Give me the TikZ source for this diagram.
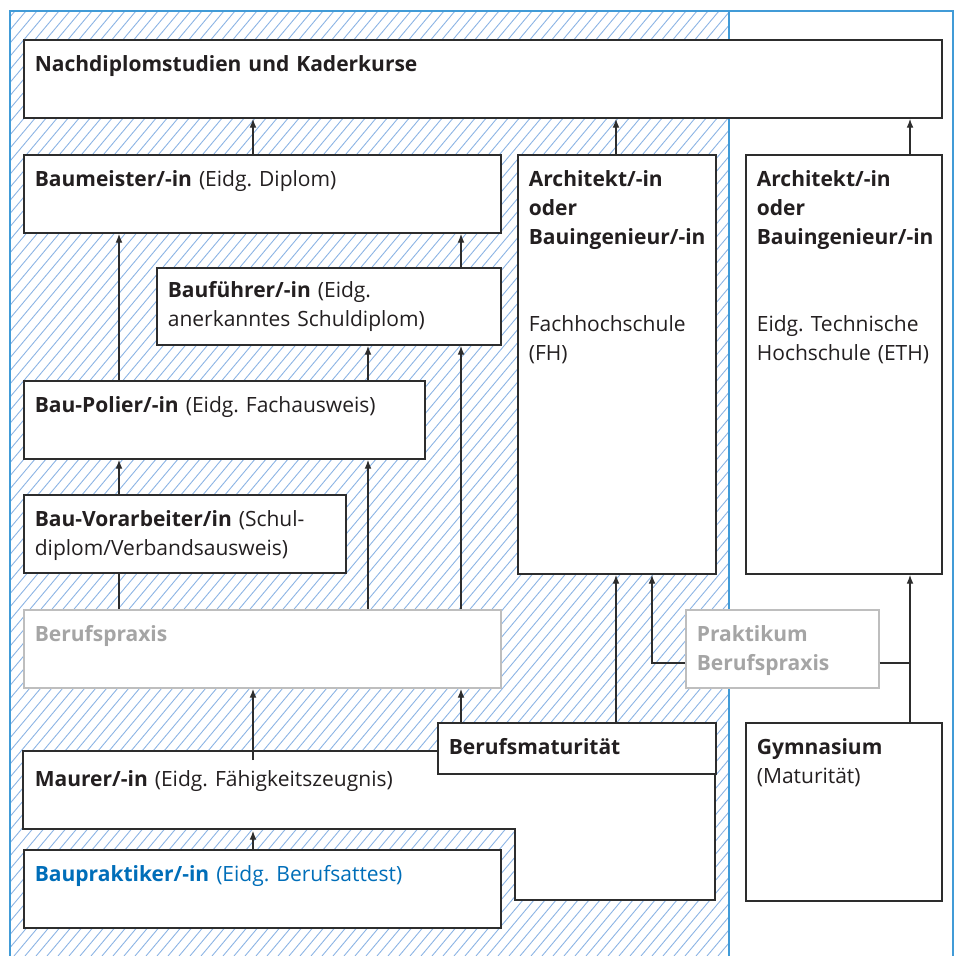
\documentclass[tikz,border=0pt]{standalone}
\usepackage{fontspec}
\setmainfont{Open Sans}
\usetikzlibrary{arrows.meta}
\frenchspacing
\definecolor{frameblue}{RGB}{65,155,215}
\definecolor{hatchblue}{RGB}{140,180,228}
\definecolor{boxline}{RGB}{45,45,45}
\definecolor{txtblack}{RGB}{35,31,32}
\definecolor{graytext}{RGB}{165,165,165}
\definecolor{grayline}{RGB}{190,190,190}
\definecolor{bluetext}{RGB}{0,110,185}
\tikzset{
  box/.style={draw=boxline, line width=0.85pt, fill=white, anchor=north west, inner xsep=5.5pt, inner ysep=0pt, text height=16pt, align=left, text=txtblack, font=\fontsize{10.5}{14.5}\selectfont},
  graybox/.style={box, draw=grayline, text=graytext},
  arr/.style={-{Latex[length=4.5pt,width=3.4pt]}, line width=0.65pt, draw=boxline},
  link/.style={line width=0.65pt, draw=boxline},
  hatch/.style={line width=0.45pt, draw=hatchblue},
}
\begin{document}
\begin{tikzpicture}[x=0.5pt, y=-0.5pt]
\useasboundingbox (0,0) rectangle (962,956);
\begin{scope}
\clip (10,11) rectangle (729,956);
\foreach \hx in {-800,-789,...,730}
  \draw[hatch] (\hx,956) -- ++(793,-945);
\end{scope}
\draw[frameblue, line width=1pt] (10,956) |- (953,11) -- (953,956);
\draw[frameblue, line width=0.75pt] (729,11) -- (729,956);

\coordinate (cA) at (119,0);
\coordinate (cB) at (253,0);
\coordinate (cC) at (368,0);
\coordinate (cD) at (461,0);
\coordinate (cE) at (616,0);
\coordinate (cF) at (652,0);
\coordinate (cG) at (910,0);
\coordinate (rp) at (0,663);

\node[box, text width=448pt, text depth=23pt] (nach) at (23,39) {\textbf{Nachdiplomstudien und Kaderkurse}};
\node[box, text width=227.5pt, text depth=23pt] (meister) at (23,154) {\textbf{Baumeister/-in} (Eidg. Diplom)};
\node[box, text width=88pt, text depth=193.5pt] (archfh) at (517,154) {\textbf{Architekt/-in}\\\textbf{oder}\\\mbox{\textbf{Bauingenieur/-in}}\\[29pt]Fachhochschule\\(FH)};
\node[box, text width=87pt, text depth=193.5pt] (archeth) at (745,154) {\textbf{Architekt/-in}\\\textbf{oder}\\\mbox{\textbf{Bauingenieur/-in}}\\[29pt]Eidg. Technische\\Hochschule (ETH)};
\node[box, text width=161pt, text depth=23.5pt, text height=15pt] (fuehrer) at (156,267) {\textbf{Bauführer/-in} (Eidg.\\anerkanntes Schuldiplom)};
\node[box, text width=189.5pt, text depth=23pt] (polier) at (23,380) {\textbf{Bau-Polier/-in} (Eidg. Fachausweis)};
\node[box, text width=150pt, text depth=23pt] (vorarb) at (23,494) {\textbf{Bau-Vorarbeiter/in} (Schul-\\diplom/Verbandsausweis)};
\node[graybox, text width=227.5pt, text depth=23pt] (praxis) at (23,609) {\textbf{Berufspraxis}};
\node[graybox, text width=85.5pt, text depth=23pt] (praktikum) at (685,609) {\textbf{Praktikum}\\\textbf{Berufspraxis}};
\draw[draw=boxline, line width=0.85pt, fill=white] (23,751) -- (715,751) -- (715,900) -- (515,900) -- (515,829) -- (23,829) -- cycle;
\node[box, draw=none, fill=none, text width=235pt, text height=17.5pt, text depth=21.5pt] (maurer) at (23,751) {\textbf{Maurer/-in} (Eidg. Fähigkeitszeugnis)};
\node[box, text width=128pt, text depth=9.5pt] (bms) at (437,722) {\textbf{Berufsmaturität}};
\node[box, text width=87pt, text depth=73pt] (gym) at (745,722) {\textbf{Gymnasium}\\(Maturität)};
\node[box, text=bluetext, text width=227.5pt, text depth=23pt] (bprakt) at (23,849) {\textbf{Baupraktiker/-in} (Eidg. Berufsattest)};

\draw[arr] (meister.north -| cB) -- (nach.south -| cB);
\draw[arr] (archfh.north -| cE) -- (nach.south -| cE);
\draw[arr] (archeth.north -| cG) -- (nach.south -| cG);
\draw[arr] (polier.north -| cA) -- (meister.south -| cA);
\draw[arr] (fuehrer.north -| cD) -- (meister.south -| cD);
\draw[arr] (polier.north -| cC) -- (fuehrer.south -| cC);
\draw[arr] (vorarb.north -| cA) -- (polier.south -| cA);
\draw[arr] (praxis.north -| cC) -- (polier.south -| cC);
\draw[arr] (praxis.north -| cD) -- (fuehrer.south -| cD);
\draw[link] (praxis.north -| cA) -- (vorarb.south -| cA);
\draw[arr] ([yshift=-4.5pt]maurer.north -| cB) -- (praxis.south -| cB);
\draw[arr] (bms.north -| cD) -- (praxis.south -| cD);
\draw[arr] (bprakt.north -| cB) -- (maurer.south -| cB);
\draw[arr] (bms.north -| cE) -- (archfh.south -| cE);
\draw[arr] (praktikum.west |- rp) -| (archfh.south -| cF);
\draw[arr] (gym.north -| cG) -- (archeth.south -| cG);
\draw[link] (praktikum.east |- rp) -- (rp -| cG);
\end{tikzpicture}
\end{document}
